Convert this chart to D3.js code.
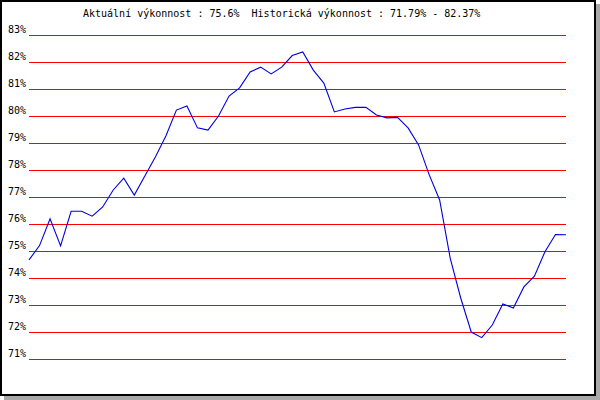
<!DOCTYPE html>
<html>
<head>
<meta charset="utf-8">
<script src="https://cdn.jsdelivr.net/npm/d3@7"></script>
<style>
  html, body { margin: 0; padding: 0; background: #fff; }
  svg { display: block; }
  text { font-family: "DejaVu Sans Mono", monospace; font-size: 10px; fill: #000; }
</style>
</head>
<body>
<svg id="chart" width="600" height="400"></svg>
<script>
const titleText = "Aktuální výkonnost : 75.6%\u00a0\u00a0Historická výkonnost : 71.79% - 82.37%";
const tickValues = [83, 82, 81, 80, 79, 78, 77, 76, 75, 74, 73, 72, 71];
const tickLabels = ["83%", "82%", "81%", "80%", "79%", "78%", "77%", "76%", "75%", "74%", "73%", "72%", "71%"];
const values = [74.67, 75.2, 76.19, 75.19, 76.47, 76.47, 76.29, 76.63, 77.26, 77.7,
  77.07, 77.78, 78.48, 79.26, 80.22, 80.37, 79.56, 79.48, 80.0, 80.74,
  81.04, 81.63, 81.81, 81.56, 81.81, 82.24, 82.37, 81.7, 81.22, 80.15,
  80.26, 80.32, 80.32, 80.04, 79.93, 79.95, 79.56, 78.93, 77.83, 76.89,
  74.74, 73.26, 72.0, 71.79, 72.26, 73.04, 72.89, 73.67, 74.07, 74.97,
  75.61, 75.6];

const svg = d3.select("#chart");

// frame with shadow
svg.append("rect").attr("x", 4).attr("y", 4).attr("width", 596).attr("height", 396)
  .attr("fill", "#a9a9a9");
svg.append("rect").attr("x", 1).attr("y", 1).attr("width", 594).attr("height", 394)
  .attr("fill", "#fff").attr("stroke", "#000").attr("stroke-width", 2);

const x = d3.scaleLinear().domain([0, values.length - 1]).range([29, 566]);
const y = d3.scaleLinear().domain([71, 83]).range([359, 35]);

// gridlines
svg.append("g").selectAll("line").data(tickValues).join("line")
  .attr("x1", 29).attr("x2", 566)
  .attr("y1", d => Math.round(y(d)) + 0.5).attr("y2", d => Math.round(y(d)) + 0.5)
  .attr("stroke", "#ff0000").attr("stroke-width", 1)
  .attr("shape-rendering", "crispEdges");

// labels
svg.append("g").selectAll("text").data(tickValues).join("text")
  .attr("x", 8).attr("y", d => Math.round(y(d)) - 2)
  .text((d, i) => tickLabels[i]);

// title
svg.append("text").attr("x", 83).attr("y", 17).text(titleText);

// line
const line = d3.line().x((d, i) => x(i)).y(d => y(d));
svg.append("path").datum(values)
  .attr("d", line)
  .attr("fill", "none")
  .attr("stroke", "#0000dd")
  .attr("stroke-width", 1.1);
</script>
</body>
</html>
